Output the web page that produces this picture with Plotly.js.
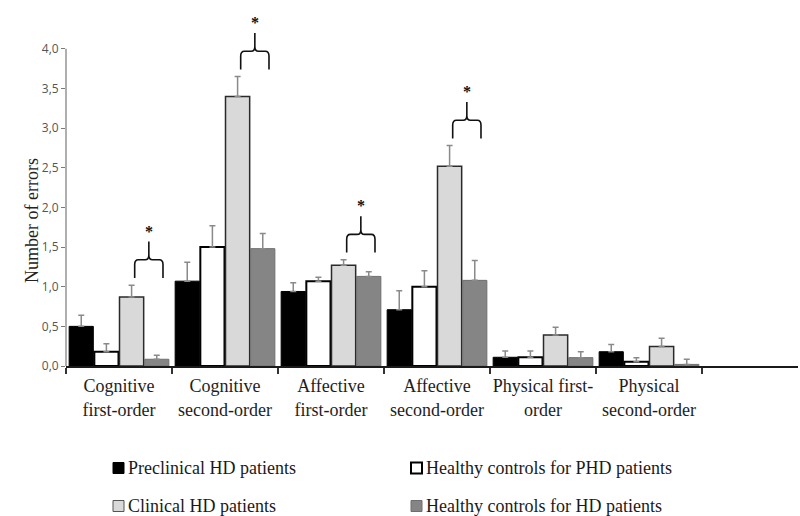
<!DOCTYPE html>
<html>
<head>
<meta charset="utf-8">
<script src="https://cdn.plot.ly/plotly-3.0.1.min.js"></script>
<style>html,body{margin:0;padding:0;background:#fff;}#chart{width:800px;height:516px;}</style>
</head>
<body>
<div id="chart"></div>
<script>
// ---- data ----
const CATEGORIES = ["Cognitive<br>first-order", "Cognitive<br>second-order", "Affective<br>first-order",
                    "Affective<br>second-order", "Physical first-<br>order", "Physical<br>second-order"];
const SERIES_NAMES = ["Preclinical HD patients", "Healthy controls for PHD patients",
                      "Clinical HD patients", "Healthy controls for HD patients"];
const PRECLINICAL = [0.50, 1.07, 0.94, 0.71, 0.11, 0.18];
const PRECLINICAL_ERR = [0.14, 0.24, 0.11, 0.24, 0.08, 0.09];
const HC_PHD = [0.18, 1.50, 1.07, 1.00, 0.11, 0.055];
const HC_PHD_ERR = [0.10, 0.27, 0.05, 0.20, 0.08, 0.05];
const CLINICAL = [0.87, 3.40, 1.27, 2.52, 0.39, 0.245];
const CLINICAL_ERR = [0.15, 0.25, 0.07, 0.26, 0.10, 0.105];
const HC_HD = [0.085, 1.48, 1.13, 1.08, 0.105, 0.02];
const HC_HD_ERR = [0.05, 0.19, 0.06, 0.25, 0.075, 0.065];
const SIGNIFICANT = [0, 1, 2, 3]; // categories with clinical vs control difference (*)
const Y_TICKS = [0, 0.5, 1, 1.5, 2, 2.5, 3, 3.5, 4];

// ---- styling ----
const W = 800, H = 516;
const M = {l: 66, r: 2, t: 10, b: 150};
const YMAX = 4.49;
const plotW = W - M.l - M.r, plotH = H - M.t - M.b;
const px = x => (x - M.l) / plotW;
const py = y => (H - M.b - y) / plotH;
const SERIF = "'Liberation Serif', 'Times New Roman', serif";

const STYLES = [
  {fill: "#000000", line: "#000000", lw: 1},
  {fill: "#ffffff", line: "#000000", lw: 2},
  {fill: "#d9d9d9", line: "#2a2a2a", lw: 1.5},
  {fill: "#858585", line: "#6f6f6f", lw: 1}
];
const VALUES = [PRECLINICAL, HC_PHD, CLINICAL, HC_HD];
const ERRS = [PRECLINICAL_ERR, HC_PHD_ERR, CLINICAL_ERR, HC_HD_ERR];

const traces = VALUES.map((vals, k) => ({
  type: "bar",
  name: SERIES_NAMES[k],
  x: CATEGORIES,
  y: vals,
  marker: {color: STYLES[k].fill, line: {color: STYLES[k].line, width: STYLES[k].lw}},
  error_y: {type: "data", array: ERRS[k], arrayminus: ERRS[k].map(() => 0), symmetric: false,
            color: "#8a8a8a", thickness: 1.5, width: 3},
  showlegend: false,
  hoverinfo: "x+y"
}));

const shapes = [];
const annotations = [];

// y axis line (stops at 4,0)
shapes.push({type: "line", xref: "paper", yref: "y", x0: 0, x1: 0, y0: -0.03, y1: Y_TICKS[Y_TICKS.length - 1],
             line: {color: "#7a7a7a", width: 1.2}});

// significance braces
SIGNIFICANT.forEach(i => {
  const x0 = i + 0.148, x1 = i + 0.415, xc = (x0 + x1) / 2;
  const yb = CLINICAL[i] + CLINICAL_ERR[i] + 0.09;
  const yt = yb + 0.23, yp = yt + 0.23;
  const rx = 0.035, ry = 0.06;
  const path = `M${x0},${yb} L${x0},${yt - ry} Q${x0},${yt} ${x0 + rx},${yt} L${xc - rx},${yt} Q${xc},${yt} ${xc},${yt + ry} L${xc},${yp}` +
               ` M${xc},${yt + ry} Q${xc},${yt} ${xc + rx},${yt} L${x1 - rx},${yt} Q${x1},${yt} ${x1},${yt - ry} L${x1},${yb}`;
  shapes.push({type: "path", xref: "x", yref: "y", path: path, line: {color: "#111", width: 1.6}, layer: "above"});
  annotations.push({xref: "x", yref: "y", x: xc, y: yp + 0.13, text: "<b>*</b>", showarrow: false,
                    font: {family: SERIF, size: 16, color: "#111"}, yanchor: "middle"});
});

// y axis title
annotations.push({xref: "paper", yref: "paper", x: px(20), y: py(221), text: "Number of errors", textangle: -90,
                  showarrow: false, font: {family: SERIF, size: 18, color: "#222"}});

// manual legend (2 x 2)
const LEG_POS = [[113, 468], [411, 468], [113, 506], [411, 506]];
SERIES_NAMES.forEach((name, k) => {
  const [lx, ly] = LEG_POS[k];
  const s = 11;
  shapes.push({type: "rect", xref: "paper", yref: "paper", x0: px(lx), x1: px(lx + s), y0: py(ly + s / 2), y1: py(ly - s / 2),
               fillcolor: STYLES[k].fill, line: {color: k === 2 ? "#555" : STYLES[k].line, width: k === 1 ? 2 : 1}});
  annotations.push({xref: "paper", yref: "paper", x: px(lx + s + 2), y: py(ly), xanchor: "left", yanchor: "middle",
                    text: name, showarrow: false, font: {family: SERIF, size: 18, color: "#1a1a1a"}});
});

const layout = {
  width: W, height: H,
  margin: M,
  paper_bgcolor: "#fff", plot_bgcolor: "#fff",
  barmode: "group", bargap: 0.05, bargroupgap: 0.04,
  separators: ",.",
  showlegend: false,
  xaxis: {
    type: "category", range: [-0.5, plotW / 106 - 0.5],
    showline: true, linecolor: "#1a1a1a", linewidth: 1.5,
    ticks: "outside", tickson: "boundaries", ticklen: 6, tickcolor: "#333", tickwidth: 1.5,
    tickangle: 0, ticklabelstandoff: 3,
    tickfont: {family: SERIF, size: 18, color: "#1e1e1e"},
    showgrid: false, zeroline: false, fixedrange: true
  },
  yaxis: {
    range: [0, YMAX], tickmode: "array", tickvals: Y_TICKS, tickformat: ".1f",
    showline: false, ticks: "outside", ticklen: 4, tickcolor: "#7a7a7a",
    tickfont: {family: "'Open Sans', 'Liberation Sans', sans-serif", size: 12, color: "#555"},
    showgrid: false, zeroline: false, fixedrange: true
  },
  shapes: shapes,
  annotations: annotations
};

Plotly.newPlot("chart", traces, layout, {displayModeBar: false, staticPlot: true});
</script>
</body>
</html>
